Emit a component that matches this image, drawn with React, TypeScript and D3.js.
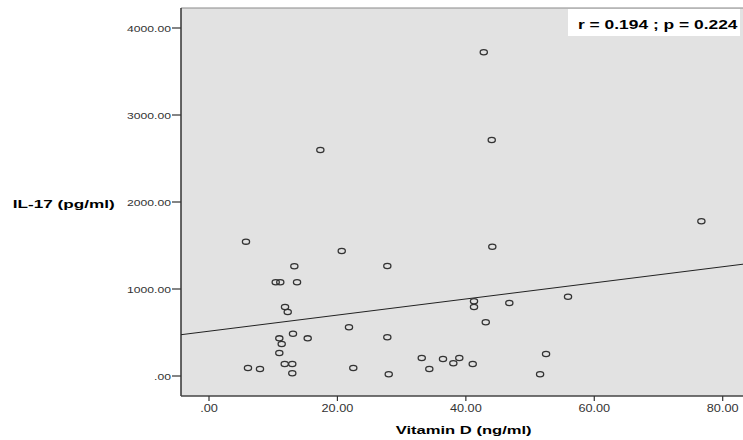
import React from "react";
import * as d3 from "d3";

// Vitamin D (ng/ml)
const vitaminD: number[] = [
  5.76, 20.67, 13.29, 10.39, 11.1, 13.71, 11.84, 12.26, 21.8, 13.08,
  10.95, 15.37, 11.32, 10.95, 11.79, 12.97, 6.07, 7.94, 22.47, 12.97,
  27.77, 44.12, 41.27, 41.27, 46.77, 55.91, 43.1, 27.77, 33.13, 36.44,
  38.98, 34.31, 38.05, 41.07, 52.49, 27.99, 51.56, 17.34, 42.79, 44.03,
  76.68,
];
// IL-17 (pg/ml)
const il17: number[] = [
  1544, 1437, 1261, 1077, 1077, 1077, 793, 736, 560, 486,
  433, 433, 368, 264, 138, 138, 92, 80, 92, 31,
  1264, 1486, 859, 793, 839, 911, 617, 445, 207, 195,
  207, 80, 146, 138, 253, 20, 20, 2598, 3721, 2713,
  1778,
];

const xTicks: number[] = [0, 20, 40, 60, 80];
const yTicks: number[] = [0, 1000, 2000, 3000, 4000];
const fitIntercept = 515;
const fitSlope = 9.26;
const statText = "r = 0.194 ; p = 0.224";
const xTitle = "Vitamin D (ng/ml)";
const yTitle = "IL-17 (pg/ml)";

const fmt = (v: number) => (v === 0 ? ".00" : v.toFixed(2));

const W = 743;
const H = 440;
const plot = { left: 181, right: 745, top: 8, bottom: 396 };

const FONT = "'Liberation Sans', Arial, sans-serif";

function SText(props: {
  x: number;
  y: number;
  sx: number;
  anchor?: string;
  size: number;
  weight?: string | number;
  fill?: string;
  children: string;
}) {
  const { x, y, sx, anchor = "start", size, weight = "normal", fill = "#000", children } = props;
  return (
    <text
      transform={`translate(${x},${y}) scale(${sx},1)`}
      textAnchor={anchor}
      fontSize={size}
      fontWeight={weight}
      fontFamily={FONT}
      fill={fill}
    >
      {children}
    </text>
  );
}

export default function App() {
  const x = d3.scaleLinear().domain([0, 80]).range([209, 722.7]);
  const y = d3.scaleLinear().domain([0, 4000]).range([376, 28]);

  const xa = x.invert(plot.left);
  const xb = x.invert(plot.right);
  const line = d3
    .line<number>()
    .x((d) => x(d))
    .y((d) => y(fitIntercept + fitSlope * d))([xa, xb]);

  return (
    <svg
      width={W}
      height={H}
      style={{ position: "absolute", left: 0, top: 0, background: "#fff" }}
    >
      <rect
        x={plot.left}
        y={plot.top}
        width={plot.right - plot.left}
        height={plot.bottom - plot.top}
        fill="#e2e2e2"
      />
      {/* top border */}
      <line x1={plot.left} x2={plot.right} y1={plot.top} y2={plot.top} stroke="#8a8a8a" strokeWidth={1.2} />
      {/* axes */}
      <line x1={plot.left} x2={plot.left} y1={plot.top} y2={plot.bottom} stroke="#333" strokeWidth={1.5} />
      <line x1={plot.left} x2={plot.right} y1={plot.bottom} y2={plot.bottom} stroke="#444" strokeWidth={1.5} />

      {/* y ticks */}
      {yTicks.map((t) => (
        <g key={"y" + t}>
          <line x1={172} x2={plot.left} y1={y(t)} y2={y(t)} stroke="#333" strokeWidth={1.2} />
          <SText x={171} y={y(t) + 3.5} sx={1.28} anchor="end" size={9.5} fill="#333">
            {fmt(t)}
          </SText>
        </g>
      ))}

      {/* x ticks */}
      {xTicks.map((t) => (
        <g key={"x" + t}>
          <line x1={x(t)} x2={x(t)} y1={plot.bottom} y2={plot.bottom + 5} stroke="#333" strokeWidth={1.2} />
          <SText x={x(t)} y={412} sx={1.27} anchor="middle" size={10} fill="#333">
            {fmt(t)}
          </SText>
        </g>
      ))}

      {/* fit line */}
      <path d={line ?? ""} fill="none" stroke="#222" strokeWidth={1} />

      {/* points */}
      {vitaminD.map((v, i) => (
        <ellipse
          key={i}
          cx={x(v)}
          cy={y(il17[i])}
          rx={3.6}
          ry={2.6}
          fill="none"
          stroke="#333"
          strokeWidth={1.3}
        />
      ))}

      {/* stat box */}
      <rect x={568} y={9} width={172} height={27} fill="#fff" />
      <SText x={578} y={29.3} sx={1.45} size={12} weight="bold">
        {statText}
      </SText>

      {/* titles */}
      <SText x={12.7} y={208.3} sx={1.48} size={11.6} weight="bold">
        {yTitle}
      </SText>
      <SText x={395.7} y={434} sx={1.43} size={11.6} weight="bold">
        {xTitle}
      </SText>
    </svg>
  );
}
